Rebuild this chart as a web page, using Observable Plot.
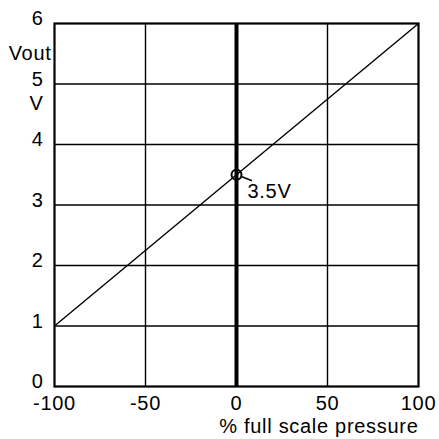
<!DOCTYPE html>
<html><head><meta charset="utf-8">
<script src="https://cdn.jsdelivr.net/npm/d3@7"></script>
<script src="https://cdn.jsdelivr.net/npm/@observablehq/plot@0.6"></script>
<style>body{margin:0;background:#fff}svg{font-family:"Liberation Sans",Arial,sans-serif}svg text{letter-spacing:0.7px}</style>
</head><body><div id="chart"></div>
<script>
const xTicks = [-100, -50, 0, 50, 100];
const yTicks = [0, 1, 2, 3, 4, 5, 6];
const linePressure = [-100, 100];
const lineVout = [1, 6];
const markPoint = [{x: 0, y: 3.5, label: "3.5V"}];
const yTitle = ["Vout"];
const yUnit = ["V"];
const xTitle = ["% full scale pressure"];
const lineData = linePressure.map((x, i) => ({x, y: lineVout[i]}));

const FS = 20;
const chart = Plot.plot({
  width: 439, height: 439,
  marginLeft: 54, marginRight: 21, marginTop: 23, marginBottom: 53,
  x: {domain: [-100, 100], axis: null},
  y: {domain: [0, 6], axis: null},
  style: {fontFamily: '"Liberation Sans", Arial, sans-serif', background: "#fff"},
  marks: [
    Plot.ruleX(xTicks.filter(d => d !== 0 && Math.abs(d) !== 100), {stroke: "#000", strokeWidth: 1.4}),
    Plot.ruleY(yTicks.filter(d => d !== 0 && d !== 6), {stroke: "#000", strokeWidth: 1.4}),
    Plot.ruleX([0], {stroke: "#000", strokeWidth: 4}),
    Plot.frame({stroke: "#000", strokeWidth: 2.2}),
    Plot.line(lineData, {x: "x", y: "y", stroke: "#000", strokeWidth: 1.4}),
    Plot.dot(markPoint, {x: "x", y: "y", r: 5, stroke: "#000", strokeWidth: 2, fill: "none"}),
    Plot.text(markPoint, {x: "x", y: "y", text: "label", dx: 11, dy: 17, textAnchor: "start", fontSize: FS, fill: "#000"}),
    Plot.text(yTicks, {x: -100, y: d => d, text: d => String(d), dx: -11, dy: -4.5, textAnchor: "end", fontSize: FS, fill: "#000"}),
    Plot.text(yTitle, {x: -100, y: 5.5, text: d => d, dx: -3, dy: 0, textAnchor: "end", fontSize: FS, fill: "#000"}),
    Plot.text(yUnit, {x: -100, y: 5, text: d => d, dx: -11, dy: 19.5, textAnchor: "end", fontSize: FS, fill: "#000"}),
    Plot.text(xTicks, {x: d => d, y: 0, text: d => String(d), dy: 17, fontSize: FS, fill: "#000"}),
    Plot.text(xTitle, {x: 100, y: 0, text: d => d, dy: 40, textAnchor: "end", fontSize: FS, fill: "#000"})
  ]
});
// leader line for the 3.5V label, positioned through the chart's scales
const sx = chart.scale("x"), sy = chart.scale("y");
const px = sx.apply(markPoint[0].x), py = sy.apply(markPoint[0].y);
const ld = document.createElementNS("http://www.w3.org/2000/svg", "line");
ld.setAttribute("x1", px + 6); ld.setAttribute("y1", py + 2.5);
ld.setAttribute("x2", px + 16); ld.setAttribute("y2", py + 6.5);
ld.setAttribute("stroke", "#000"); ld.setAttribute("stroke-width", "1.5");
chart.appendChild(ld);
document.getElementById("chart").appendChild(chart);
</script></body></html>
